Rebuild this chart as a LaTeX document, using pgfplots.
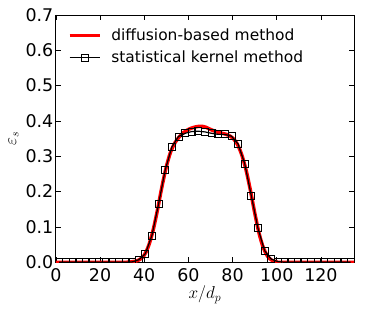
\documentclass[border=0pt]{standalone}
\usepackage{fontspec}
\setmainfont{DejaVu Sans}
\usepackage{pgfplots}
\pgfplotsset{compat=1.18}
\begin{document}
\begin{tikzpicture}[font=\fontsize{17}{20}\selectfont]
\begin{axis}[
  scale only axis, width=299pt, height=248pt,
  xmin=0, xmax=135, ymin=0, ymax=0.7,
  xtick={0,20,40,60,80,100,120},
  ytick={0,0.1,0.2,0.3,0.4,0.5,0.6,0.7},
  /pgf/number format/assume math mode=true,
  tick label style={font=\fontsize{17.5}{20}\selectfont},
  label style={font=\fontsize{17}{20}\selectfont},
  yticklabel style={xshift=1pt, /pgf/number format/.cd, fixed, fixed zerofill, precision=1},
  xticklabel style={yshift=-3pt},
  tick align=inside, major tick length=5pt,
  tick style={black, line width=0.6pt},
  axis line style={black, line width=0.8pt},
  xlabel={$x/d_p$}, ylabel={$\varepsilon_s$},
  xlabel style={yshift=3pt},
  ylabel style={yshift=0pt},
  clip marker paths=true,
  legend cell align=left,
  legend style={at={(0.03,0.96)}, anchor=north west, draw=none, fill=none, row sep=5pt,
    font=\fontsize{15.5}{18}\selectfont, /tikz/every odd column/.append style={column sep=8pt}},
]
\addplot[red, line width=3.5pt, smooth, legend image code/.code={\draw[red, line width=3.5pt] (0pt,0pt) -- (30pt,0pt);}] coordinates {
(0,0) (30,0) (34,0.001) (36,0.003) (38,0.008) (40,0.02) (42,0.047) (44,0.09) (46,0.148) (48,0.213) (50,0.27) (52,0.313) (54,0.339) (56,0.356) (58,0.368) (60,0.376) (62,0.381) (64,0.384) (66,0.385) (68,0.382) (70,0.376) (72,0.371) (74,0.367) (76,0.364) (78,0.36) (80,0.352) (82,0.336) (84,0.307) (86,0.264) (88,0.206) (90,0.141) (92,0.082) (94,0.04) (96,0.016) (98,0.005) (100,0.001) (103,0) (135,0)
};
\addlegendentry{diffusion-based method}
\addplot[black, line width=1.2pt, mark=square, mark size=3.5pt, mark options={solid, fill=none, line width=0.8pt},
  legend image code/.code={\draw[black, line width=1.2pt] (0pt,0pt) -- (30pt,0pt); \draw[black, line width=0.8pt] (11.5pt,-3.5pt) rectangle (18.5pt,3.5pt);}] coordinates {
(1.5,0) (4.5,0) (7.5,0) (10.5,0) (13.5,0) (16.5,0) (19.5,0) (22.5,0) (25.5,0) (28.5,0) (31.5,0) (34.5,0.001)
(37.5,0.007) (40.5,0.024) (43.5,0.076) (46.5,0.165) (49.5,0.261) (52.5,0.326) (55.5,0.356) (58.5,0.365) (61.5,0.370) (64.5,0.371) (67.5,0.369) (70.5,0.365) (73.5,0.362) (76.5,0.362) (79.5,0.357) (82.5,0.335) (85.5,0.279) (88.5,0.188) (91.5,0.096) (94.5,0.033) (97.5,0.009) (100.5,0.002)
(103.5,0) (106.5,0) (109.5,0) (112.5,0) (115.5,0) (118.5,0) (121.5,0) (124.5,0) (127.5,0) (130.5,0) (133.5,0)
};
\addlegendentry{statistical kernel method}
\end{axis}
\pgfresetboundingbox
\path ([xshift=-56pt,yshift=-48pt]current axis.south west) rectangle ([xshift=19pt,yshift=15pt]current axis.north east);
\end{tikzpicture}
\end{document}
